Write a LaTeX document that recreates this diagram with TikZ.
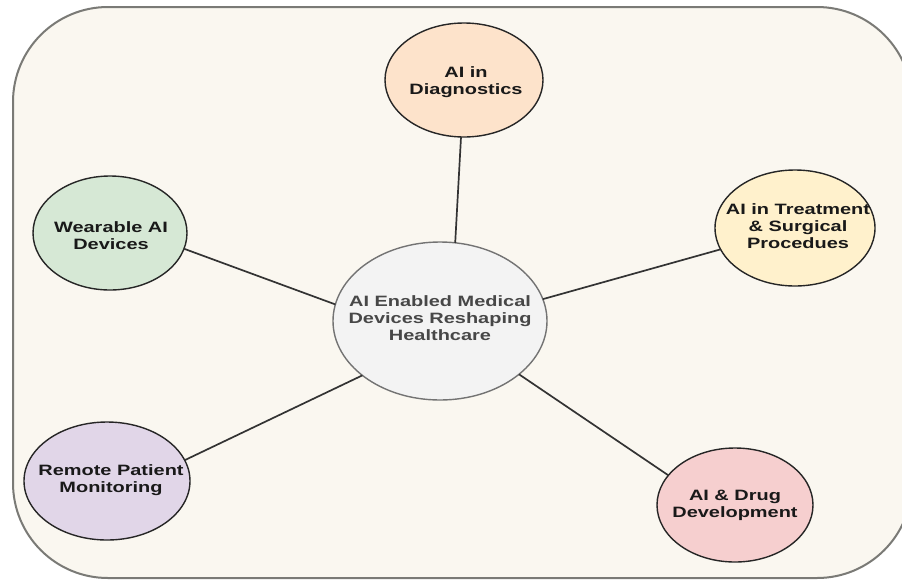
\documentclass[tikz,border=0pt]{standalone}
\usepackage{fontspec}
\usepackage{graphicx}
\setmainfont{Liberation Sans}
\usetikzlibrary{shapes.geometric}
\definecolor{bgcream}{HTML}{FAF7F0}
\definecolor{framegray}{HTML}{7A7A76}
\definecolor{peach}{HTML}{FDE3CB}
\definecolor{mint}{HTML}{D6E8D5}
\definecolor{cream}{HTML}{FFF1CC}
\definecolor{lilac}{HTML}{E1D6E8}
\definecolor{rose}{HTML}{F6CFCF}
\definecolor{pale}{HTML}{F3F3F3}
\newcommand{\widetext}[1]{\scalebox{1.33}[1]{\begin{tabular}{@{}c@{}}#1\end{tabular}}}
\begin{document}
\begin{tikzpicture}[x=1pt,y=-1pt,
  bubble/.style={ellipse, draw=black!85, line width=1.4pt, inner sep=0pt, outer sep=0pt},
  lbl/.style={font=\fontsize{15}{17}\selectfont\bfseries, text=black!90, inner sep=0pt},
  link/.style={draw=black!80, line width=1.7pt}]
\useasboundingbox (0,0) rectangle (902,582);
\fill[white] (0,0) rectangle (902,582);
\begin{scope}
\clip (0,0) rectangle (902,582);
\draw[fill=bgcream, draw=framegray, line width=2pt, rounded corners=95pt] (13,7) rectangle (912,578);
\end{scope}

\node[bubble, fill=pale, draw=black!55, minimum width=214pt, minimum height=158pt] (c) at (440,321) {};
\node[bubble, fill=peach, minimum width=158pt, minimum height=114pt] (diag) at (464,80) {};
\node[bubble, fill=mint, minimum width=154pt, minimum height=114pt] (wear) at (110,233) {};
\node[bubble, fill=cream, minimum width=160pt, minimum height=116pt] (treat) at (795,228) {};
\node[bubble, fill=lilac, minimum width=166pt, minimum height=118pt] (remote) at (107,481) {};
\node[bubble, fill=rose, minimum width=156pt, minimum height=114pt] (drug) at (735,505) {};

\node[lbl, text=black!72] (cT) at (440,320) {\widetext{AI Enabled Medical\\Devices Reshaping\\Healthcare}};
\node[lbl] (diagT) at (466,83) {\widetext{AI in\\Diagnostics}};
\node[lbl] (wearT) at (111,238) {\widetext{Wearable AI\\Devices}};
\node[lbl] (treatT) at (798,228) {\widetext{AI in Treatment\\\& Surgical\\Procedues}};
\node[lbl] (remoteT) at (111,481) {\widetext{Remote Patient\\Monitoring}};
\node[lbl] (drugT) at (735,506) {\widetext{AI \& Drug\\Development}};

\draw[link] (c.79) -- (diag.267);
\draw[link] (c.171) -- (wear.348);
\draw[link] (c.12) -- (treat.196);
\draw[link] (c.215) -- (remote.15);
\draw[link] (c.326) -- (drug.156);
\end{tikzpicture}
\end{document}
